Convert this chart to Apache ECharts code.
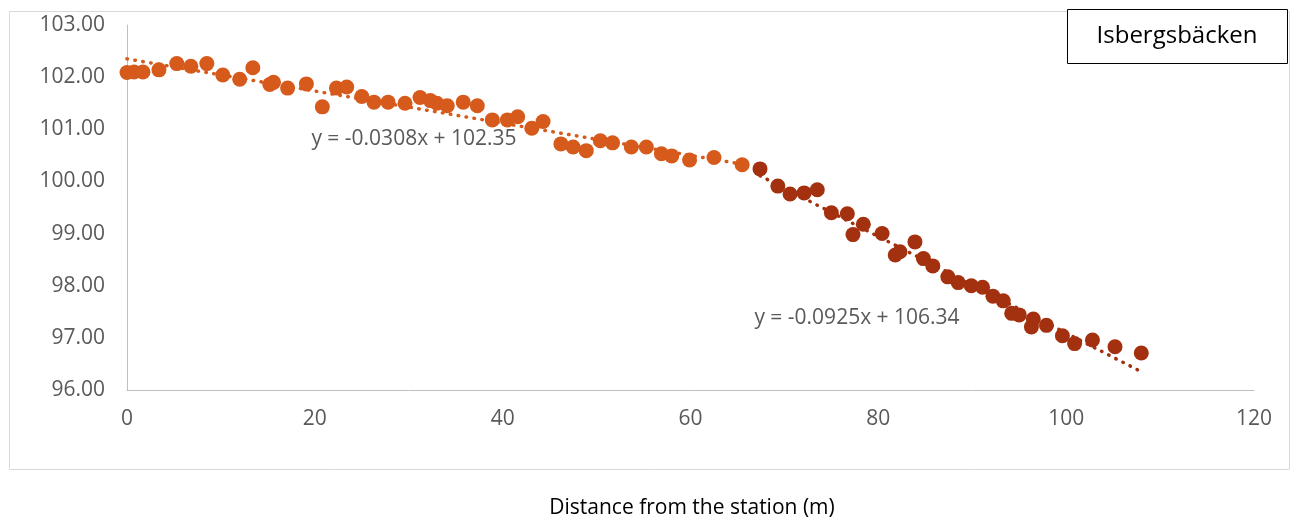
<!DOCTYPE html>
<html>
<head>
<meta charset="utf-8">
<script src="https://cdn.jsdelivr.net/npm/echarts@6/dist/echarts.min.js"></script>
<style>
html,body{margin:0;padding:0;background:#fff;}
#chart{width:1293px;height:522px;}
</style>
</head>
<body>
<div id="chart"></div>
<script>
// Upper reach (orange)
const upperX = [0, 0.75, 1.7, 3.4, 5.3, 6.8, 8.5, 10.2, 12.0, 13.4, 15.2, 15.6, 17.1, 19.1, 20.8, 22.3, 23.4, 25.0, 26.3, 27.8, 29.6, 31.2, 32.3, 33.0, 34.1, 35.8, 37.3, 38.9, 40.5, 41.6, 43.1, 44.3, 46.2, 47.5, 48.9, 50.4, 51.7, 53.7, 55.3, 56.9, 58.0, 59.9, 62.5, 65.5];
const upperY = [102.09, 102.10, 102.10, 102.14, 102.26, 102.21, 102.26, 102.04, 101.96, 102.18, 101.86, 101.90, 101.79, 101.87, 101.43, 101.79, 101.81, 101.63, 101.52, 101.52, 101.50, 101.61, 101.55, 101.50, 101.45, 101.52, 101.45, 101.18, 101.18, 101.24, 101.02, 101.15, 100.72, 100.66, 100.59, 100.78, 100.74, 100.66, 100.66, 100.53, 100.49, 100.41, 100.46, 100.32];
// Lower reach (dark red)
const lowerX = [67.4, 69.3, 70.6, 72.1, 73.5, 75.0, 76.7, 77.3, 78.4, 80.4, 81.8, 82.3, 83.9, 84.8, 85.8, 87.4, 88.5, 89.9, 91.1, 92.2, 93.3, 94.2, 95.0, 96.3, 96.5, 97.9, 99.6, 100.9, 102.8, 105.2, 108.0];
const lowerY = [100.24, 99.91, 99.76, 99.78, 99.84, 99.40, 99.38, 98.98, 99.18, 99.00, 98.59, 98.65, 98.84, 98.52, 98.38, 98.17, 98.06, 98.00, 97.97, 97.80, 97.71, 97.47, 97.44, 97.21, 97.36, 97.24, 97.04, 96.89, 96.96, 96.83, 96.71];
// Trendline end points
const trendUpperX = [0, 65.5];
const trendUpperY = [102.35, 100.33];
const trendLowerX = [67.4, 108.0];
const trendLowerY = [100.11, 96.35];
// Texts
const equationUpper = 'y = -0.0308x + 102.35';
const equationLower = 'y = -0.0925x + 106.34';
const seriesTitle = 'Isbergsbäcken';
const xTitle = 'Distance from the station (m)';

const zip = (a, b) => a.map((v, i) => [v, b[i]]);
const FONT = '"Open Sans", sans-serif';
const C1 = '#D65A1B', C2 = '#A3300F';

const chart = echarts.init(document.getElementById('chart'), null, {renderer: 'canvas'});
chart.setOption({
  animation: false,
  backgroundColor: '#fff',
  grid: {left: 127, top: 25, right: 39, bottom: 132, containLabel: false},
  xAxis: {
    type: 'value', min: 0, max: 120, interval: 20,
    axisLine: {show: true, lineStyle: {color: '#BFBFBF', width: 1}},
    axisTick: {show: false},
    splitLine: {show: false},
    axisLabel: {color: '#595959', fontFamily: FONT, fontSize: 21, margin: 19}
  },
  yAxis: {
    type: 'value', min: 96, max: 103, interval: 1,
    axisLine: {show: true, lineStyle: {color: '#BFBFBF', width: 1}},
    axisTick: {show: false},
    splitLine: {show: false},
    axisLabel: {color: '#595959', fontFamily: FONT, fontSize: 21, margin: 22,
      formatter: v => v.toFixed(2)}
  },
  series: [
    {type: 'scatter', data: zip(upperX, upperY), symbolSize: 15,
     itemStyle: {color: C1, opacity: 1}, z: 2},
    {type: 'scatter', data: zip(lowerX, lowerY), symbolSize: 15,
     itemStyle: {color: C2, opacity: 1}, z: 2},
    {type: 'line', data: zip(trendUpperX, trendUpperY), symbol: 'none', z: 3,
     lineStyle: {color: C1, width: 3.5, type: [0.5, 7.5], cap: 'round'}},
    {type: 'line', data: zip(trendLowerX, trendLowerY), symbol: 'none', z: 3,
     lineStyle: {color: C2, width: 3.5, type: [0.5, 7.5], cap: 'round'}}
  ],
  graphic: [
    {type: 'rect', left: 7, top: 9, z: -10, silent: true,
     shape: {width: 1280, height: 458},
     style: {fill: 'none', stroke: '#D9D9D9', lineWidth: 1}},
    {type: 'rect', left: 1067, top: 9, z: 10,
     shape: {width: 220, height: 54},
     style: {fill: '#fff', stroke: '#000', lineWidth: 1}},
    {type: 'text', x: 1177, y: 36, z: 11,
     style: {text: seriesTitle, fill: '#000', font: '24px ' + FONT, align: 'center', verticalAlign: 'middle'}},
    {type: 'text', x: 414, y: 139, z: 11,
     style: {text: equationUpper, fill: '#595959', font: '21px ' + FONT, align: 'center', verticalAlign: 'middle'}},
    {type: 'text', x: 857, y: 318, z: 11,
     style: {text: equationLower, fill: '#595959', font: '21px ' + FONT, align: 'center', verticalAlign: 'middle'}},
    {type: 'text', x: 692, y: 508, z: 11,
     style: {text: xTitle, fill: '#000', font: '21px ' + FONT, align: 'center', verticalAlign: 'middle'}}
  ]
});
</script>
</body>
</html>
